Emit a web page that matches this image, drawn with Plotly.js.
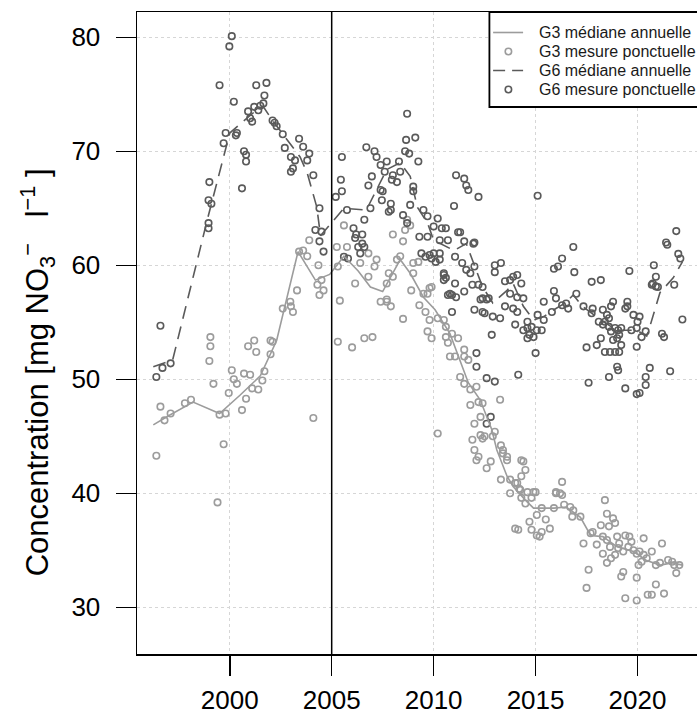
<!DOCTYPE html>
<html>
<head>
<meta charset="utf-8">
<script src="https://cdn.plot.ly/plotly-3.0.1.min.js"></script>
<style>
html,body{margin:0;padding:0;overflow:hidden;background:#fff;}
#chart{width:697px;height:727px;}
</style>
</head>
<body>
<div id="chart"></div>
<script>
// ---- Data ----
const g3MedYear = [1996.25,1997.0,1998.2,1999.5,2000.5,2001.5,2002.3,2003.35,2004.2,2004.9,2005.6,2006.3,2006.9,2007.5,2008.36,2008.85,2009.5,2010.07,2010.8,2011.3,2011.7,2012.28,2012.85,2013.1,2013.6,2013.9,2014.5,2014.9,2015.9,2016.5,2017.2,2017.7,2018.3,2019.0,2019.8,2020.45,2021.1,2021.7,2022.2];
const g3MedVal  = [46.0,46.8,48.0,47.0,48.6,50.3,53.4,61.2,58.7,59.2,60.8,59.5,58.1,57.7,60.5,59.3,57.2,56.1,54.0,51.7,49.7,48.2,45.6,43.8,41.5,40.6,39.4,38.7,38.7,38.8,37.9,36.3,36.2,35.3,34.9,34.1,33.7,33.9,33.7];

const g6MedYear = [1996.25,1997.2,1998.9,2000.0,2001.3,2001.65,2002.1,2002.8,2003.45,2003.8,2004.27,2004.45,2005.6,2006.7,2007.2,2007.7,2008.36,2008.85,2009.2,2009.7,2010.0,2011.0,2011.6,2011.95,2012.4,2012.9,2013.6,2013.9,2014.4,2014.9,2015.4,2015.9,2016.45,2016.85,2017.3,2018.2,2019.0,2019.96,2020.45,2020.6,2021.1,2021.75,2022.2];
const g6MedVal  = [51.1,51.7,64.0,71.6,73.6,73.9,72.7,71.0,69.5,68.1,65.1,62.6,65.0,64.85,66.6,68.4,69.0,67.8,65.1,63.7,62.2,61.3,61.9,60.2,58.1,56.7,57.8,58.4,56.4,55.2,55.5,56.1,56.7,57.4,56.4,55.2,54.3,54.3,53.8,54.6,57.6,58.9,60.3];

const g3PtYear = [1996.4,1996.6,1996.8,1997.1,1997.8,1998.1,1999.05,1999.05,1999.0,1999.2,1999.4,1999.7,1999.5,1999.8,1999.95,2000.1,2000.2,2000.35,2000.6,2000.7,2000.8,2000.9,2001.0,2001.1,2001.2,2001.3,2001.4,2001.6,2001.7,2002.0,2002.0,2002.1,2002.6,2002.97,2003.0,2003.1,2003.3,2003.4,2003.6,2003.9,2003.8,2004.1,2004.3,2004.35,2004.4,2004.5,2004.6,
2005.25,2005.3,2005.3,2005.4,2005.6,2005.75,2006.0,2006.15,2006.4,2006.6,2006.8,2006.8,2007.0,2007.1,2007.2,2007.4,2007.7,2007.7,2007.7,2007.8,2007.9,2008.0,2008.0,2008.2,2008.36,2008.5,2008.5,2008.6,2008.7,2008.85,2008.9,2009.0,2009.0,2009.25,2009.3,2009.5,2009.6,2009.7,2009.7,2009.8,2009.8,2009.9,2009.9,
2010.2,2010.2,2010.5,2010.6,2010.6,2010.7,2010.8,2010.9,2011.05,2011.2,2011.3,2011.5,2011.5,2011.5,2011.7,2011.8,2011.8,2011.9,2012.0,2012.0,2012.1,2012.1,2012.2,2012.2,2012.3,2012.3,2012.4,2012.4,2012.5,2012.6,2012.8,2012.9,2013.0,2013.26,2013.3,2013.3,2013.4,2013.4,2013.6,2013.6,2013.75,2013.75,
2014.0,2014.0,2014.1,2014.15,2014.2,2014.25,2014.3,2014.3,2014.3,2014.4,2014.5,2014.5,2014.6,2014.7,2014.8,2014.8,2014.9,2015.0,2015.06,2015.06,2015.2,2015.3,2015.3,2015.5,2015.7,2015.9,2016.0,2016.0,2016.2,2016.3,2016.3,2016.4,2016.7,2016.8,2016.85,
2017.2,2017.35,2017.5,2017.6,2017.7,2017.8,2018.0,2018.2,2018.3,2018.3,2018.4,2018.5,2018.5,2018.5,2018.6,2018.65,2018.7,2018.8,2018.9,2018.9,2019.0,2019.05,2019.1,2019.2,2019.3,2019.3,2019.4,2019.4,2019.55,2019.6,2019.7,2019.8,2019.96,2019.96,2019.96,
2020.05,2020.1,2020.2,2020.3,2020.3,2020.45,2020.5,2020.7,2020.7,2020.9,2020.9,2021.1,2021.2,2021.3,2021.5,2021.7,2021.8,2021.9,2022.05];
const g3PtVal = [43.3,47.6,46.4,47.0,47.9,48.2,53.7,52.9,51.6,49.6,39.2,44.3,46.9,47.0,48.8,50.8,50.0,49.6,47.3,50.5,48.3,52.9,50.4,49.2,53.4,52.4,49.1,49.9,50.7,53.4,52.2,53.3,56.2,56.8,56.4,55.9,57.8,61.2,61.3,62.2,60.8,46.6,58.3,60.0,57.4,58.7,57.8,
61.6,59.9,53.3,56.9,63.5,61.6,52.8,58.4,60.2,53.6,59.0,61.05,53.7,59.9,60.5,56.8,56.8,57.0,58.4,59.3,56.4,62.7,59.0,60.5,60.8,62.1,55.3,63.1,64.0,63.5,57.8,59.3,60.2,60.3,56.5,57.5,55.9,57.5,54.2,58.0,55.2,58.1,53.6,
55.35,45.25,55.2,54.6,53.7,53.2,52.0,54.0,52.0,53.6,50.2,52.6,52.0,49.6,51.7,49.1,47.75,44.7,46.1,43.8,49.35,42.9,48.0,43.2,46.7,45.1,47.9,44.8,45.0,42.2,42.8,45.0,45.4,48.2,44.2,41.2,43.8,43.5,43.2,42.9,41.2,40.0,
40.9,36.9,40.9,36.8,40.4,40.3,41.5,42.9,39.6,42.8,42.05,39.1,40.1,37.5,39.6,36.8,40.1,40.1,38.1,36.3,36.2,38.7,36.6,37.7,36.9,38.7,40.0,40.1,40.0,41.0,39.85,39.0,38.8,37.95,38.5,
37.95,35.6,31.7,33.3,36.5,36.6,35.5,37.2,36.2,34.7,39.4,38.2,35.9,33.9,37.1,35.3,34.3,37.8,37.4,34.6,36.2,35.2,35.6,32.7,34.9,33.1,36.3,30.8,35.3,36.2,35.75,35.0,34.7,32.6,30.6,
33.7,34.9,34.0,34.6,36.05,34.3,31.1,34.9,31.1,33.7,32.0,33.9,35.6,31.2,34.15,34.0,33.7,33.0,33.7];

const g6PtYear = [1996.4,1996.6,1996.7,1997.1,1998.96,1998.96,1998.96,1999.0,1999.1,1999.5,1999.7,1999.8,1999.98,2000.1,2000.2,2000.3,2000.35,2000.6,2000.7,2000.8,2000.8,2000.9,2001.0,2001.1,2001.2,2001.3,2001.4,2001.5,2001.65,2001.7,2001.8,2002.1,2002.2,2002.3,2002.6,2002.7,2003.0,2003.0,2003.1,2003.2,2003.4,2003.6,2003.8,2003.9,2004.1,2004.2,2004.4,2004.4,2004.5,2004.6,
2005.2,2005.45,2005.5,2005.5,2005.6,2005.75,2005.8,2006.07,2006.15,2006.2,2006.3,2006.4,2006.5,2006.5,2006.6,2006.6,2006.7,2006.8,2006.9,2006.97,2007.1,2007.2,2007.4,2007.4,2007.46,2007.5,2007.6,2007.7,2007.8,2007.9,2007.9,2007.95,2008.0,2008.2,2008.3,2008.36,2008.5,2008.6,2008.65,2008.7,2008.7,2008.8,2008.85,2009.0,2009.0,2009.1,2009.25,2009.3,2009.4,2009.5,2009.6,2009.7,2009.7,2009.8,2009.9,
2010.0,2010.0,2010.1,2010.2,2010.3,2010.3,2010.3,2010.4,2010.5,2010.5,2010.5,2010.6,2010.6,2010.7,2010.7,2010.8,2010.9,2010.9,2011.0,2011.05,2011.05,2011.1,2011.1,2011.2,2011.3,2011.4,2011.5,2011.5,2011.5,2011.6,2011.6,2011.7,2011.8,2011.9,2011.95,2012.0,2012.0,2012.0,2012.1,2012.1,2012.2,2012.2,2012.3,2012.4,2012.4,2012.4,2012.5,2012.6,2012.6,2012.6,2012.7,2012.8,2012.85,2012.9,
2013.0,2013.0,2013.0,2013.26,2013.3,2013.5,2013.5,2013.75,2013.75,2013.9,2013.9,2014.0,2014.1,2014.1,2014.1,2014.15,2014.3,2014.4,2014.4,2014.6,2014.6,2014.6,2014.7,2014.8,2014.9,2015.0,2015.06,2015.1,2015.1,2015.3,2015.4,2015.4,2015.8,2015.9,2015.9,2016.0,2016.1,2016.3,2016.3,2016.5,2016.6,2016.85,2016.9,
2017.0,2017.35,2017.5,2017.6,2017.75,2017.75,2017.8,2018.0,2018.1,2018.2,2018.2,2018.3,2018.3,2018.4,2018.4,2018.5,2018.6,2018.6,2018.6,2018.65,2018.7,2018.7,2018.8,2018.8,2018.9,2018.9,2019.0,2019.0,2019.05,2019.05,2019.1,2019.1,2019.2,2019.2,2019.4,2019.4,2019.5,2019.5,2019.6,2019.7,2019.8,2019.96,2019.96,2019.96,
2020.0,2020.1,2020.1,2020.2,2020.4,2020.4,2020.4,2020.6,2020.7,2020.75,2020.8,2020.9,2020.9,2021.0,2021.2,2021.3,2021.4,2021.46,2021.6,2021.8,2021.9,2022.0,2022.1,2022.2];
const g6PtVal = [50.2,54.7,51.0,51.4,63.7,63.25,65.7,67.3,65.4,75.8,70.7,71.6,79.2,80.1,74.35,71.4,71.6,66.75,70.0,69.7,69.1,73.5,72.9,72.6,73.9,75.8,73.6,74.0,74.2,74.9,76.0,72.7,72.5,72.2,71.5,70.3,69.5,68.2,68.5,69.2,71.1,70.4,69.2,69.8,67.9,63.1,65.0,62.1,62.95,61.2,
66.0,67.5,69.5,66.5,60.75,64.85,60.6,63.25,62.4,62.7,61.6,61.05,62.7,61.9,64.0,61.6,70.35,67.0,65.0,67.8,70.0,69.5,68.8,66.6,65.7,66.5,68.2,69.1,64.7,65.4,64.85,67.5,67.9,67.3,69.1,68.2,64.4,70.0,71.0,73.3,63.7,69.8,65.3,66.9,66.5,71.2,69.1,62.5,61.05,64.85,60.75,64.3,62.5,60.9,60.6,
63.4,61.05,60.3,64.1,62.2,61.05,60.5,63.25,59.3,58.7,59.15,63.25,58.9,62.2,57.4,57.5,57.4,55.9,65.2,60.75,58.4,67.9,57.2,62.9,62.9,60.2,67.6,62.1,57.7,67.0,59.6,66.6,59.3,58.3,61.9,62.0,59.9,56.1,52.3,51.1,66.0,58.3,57.0,58.1,57.1,55.9,55.8,57.0,50.1,46.1,57.1,46.7,53.9,55.5,
60.0,59.4,49.8,55.35,60.2,58.6,56.4,58.7,57.5,59.0,56.2,54.8,59.15,57.2,55.9,50.4,58.4,57.1,54.3,55.05,54.5,53.6,53.9,54.6,53.7,52.3,54.3,66.1,55.65,54.3,55.2,56.8,55.9,59.7,57.75,57.1,59.9,60.6,56.5,56.65,56.2,61.6,59.4,
57.5,56.4,52.8,49.7,58.55,55.8,56.2,53.0,55.05,58.7,53.6,56.1,54.8,55.05,52.4,55.65,55.35,54.6,50.2,52.4,56.4,54.2,56.8,53.45,54.5,52.4,53.6,51.1,54.3,50.8,53.9,52.4,54.5,53.0,56.2,49.2,56.8,56.4,59.5,54.3,55.65,54.5,52.85,48.7,
55.05,55.5,48.8,53.7,54.2,49.5,50.2,51.0,58.3,58.4,60.0,59.0,58.15,58.1,54.0,53.7,62.0,61.8,50.7,58.3,63.0,61.0,60.6,55.25];

const xTickVals = [2000, 2005, 2010, 2015, 2020];
const yTickVals = [30, 40, 50, 60, 70, 80];
const breakYear = 2005;
const legendNames = ['G3 médiane annuelle','G3 mesure ponctuelle','G6 médiane annuelle','G6 mesure ponctuelle'];
const yTitle = 'Concentration [mg NO<sub>3</sub><sup>−</sup>\u00A0\u00A0 l<sup>−1</sup>\u00A0]';

// ---- Styles / geometry ----
const cG3 = '#9c9c9c';
const cG6 = '#5a5a5a';
const FONT = 'Liberation Sans, Arial, Helvetica, sans-serif';
const W = 697, H = 727, ML = 136.7, MR = 0, MT = 12, MB = 73;
const PW = W - ML - MR, PH = H - MT - MB;
const px = v => (v - ML) / PW;          // page x -> paper x
const py = v => (H - MB - v) / PH;      // page y -> paper y

const traces = [
  {x: g3PtYear, y: g3PtVal, type: 'scatter', mode: 'markers', name: legendNames[1], showlegend: false,
   marker: {symbol: 'circle-open', size: 6.5, color: cG3, line: {width: 1.6, color: cG3}}},
  {x: g6PtYear, y: g6PtVal, type: 'scatter', mode: 'markers', name: legendNames[3], showlegend: false,
   marker: {symbol: 'circle-open', size: 6.5, color: cG6, line: {width: 1.6, color: cG6}}},
  {x: g3MedYear, y: g3MedVal, type: 'scatter', mode: 'lines', name: legendNames[0], showlegend: false,
   line: {color: cG3, width: 1.6}},
  {x: g6MedYear, y: g6MedVal, type: 'scatter', mode: 'lines', name: legendNames[2], showlegend: false,
   line: {color: cG6, width: 1.6, dash: '13px,8px'}}
];

// legend box (drawn as shapes + annotations)
const legLeft = 489.3, legTop = MT, legBottom = 107, rowY = [32.5, 51.5, 70.5, 89.5];
const shapes = [
  {type: 'line', xref: 'x', yref: 'paper', x0: breakYear, x1: breakYear, y0: 0, y1: 1,
   line: {color: '#000', width: 1.5}, layer: 'above'},
  {type: 'rect', xref: 'paper', yref: 'paper', x0: px(legLeft), x1: px(W + 20), y0: py(legBottom), y1: py(legTop),
   fillcolor: '#fff', line: {color: '#000', width: 1.8}, layer: 'above'},
  {type: 'line', xref: 'paper', yref: 'paper', x0: px(493), x1: px(523), y0: py(rowY[0]), y1: py(rowY[0]),
   line: {color: cG3, width: 1.6}, layer: 'above'},
  {type: 'line', xref: 'paper', yref: 'paper', x0: px(493), x1: px(523), y0: py(rowY[2]), y1: py(rowY[2]),
   line: {color: cG6, width: 1.6, dash: '12px,7px'}, layer: 'above'},
  {type: 'circle', xref: 'paper', yref: 'paper', xsizemode: 'pixel', ysizemode: 'pixel',
   xanchor: px(508.3), yanchor: py(rowY[1]), x0: -3.2, x1: 3.2, y0: -3.2, y1: 3.2,
   line: {color: cG3, width: 1.6}, layer: 'above'},
  {type: 'circle', xref: 'paper', yref: 'paper', xsizemode: 'pixel', ysizemode: 'pixel',
   xanchor: px(508.3), yanchor: py(rowY[3]), x0: -3.2, x1: 3.2, y0: -3.2, y1: 3.2,
   line: {color: cG6, width: 1.6}, layer: 'above'}
];

const annotations = legendNames.map((t, i) => ({
  text: t, xref: 'paper', yref: 'paper', x: px(536.5), y: py(rowY[i]),
  xanchor: 'left', yanchor: 'middle', showarrow: false,
  font: {family: FONT, size: 16, color: '#1a1a1a'}
}));
annotations.push({
  text: yTitle, xref: 'paper', yref: 'paper', x: px(37), y: py(372),
  xanchor: 'center', yanchor: 'middle', textangle: -90, showarrow: false,
  font: {family: FONT, size: 31, color: '#000'}
});

const layout = {
  width: W, height: H,
  margin: {l: ML, r: MR, t: MT, b: MB, pad: 0},
  paper_bgcolor: '#fff', plot_bgcolor: '#fff',
  font: {family: FONT, color: '#000'},
  showlegend: false,
  xaxis: {range: [1995.451, 2022.917], tickvals: xTickVals, ticktext: xTickVals.map(String),
    showline: true, mirror: true, linecolor: '#000', linewidth: 1.5,
    ticks: 'outside', ticklen: 20, tickwidth: 1.5, tickcolor: '#000',
    tickfont: {family: FONT, size: 26, color: '#000'}, ticklabelstandoff: 2,
    showgrid: true, gridcolor: '#d6d6d6', gridwidth: 1, griddash: '3px,3px', zeroline: false},
  yaxis: {range: [25.904, 82.219], tickvals: yTickVals, ticktext: yTickVals.map(String),
    showline: true, mirror: false, linecolor: '#000', linewidth: 1.5,
    ticks: 'outside', ticklen: 20, tickwidth: 1.5, tickcolor: '#000',
    tickfont: {family: FONT, size: 26, color: '#000'}, ticklabelstandoff: 10,
    showgrid: true, gridcolor: '#d6d6d6', gridwidth: 1, griddash: '3px,3px', zeroline: false},
  shapes: shapes,
  annotations: annotations
};

Plotly.newPlot('chart', traces, layout, {staticPlot: true, displayModeBar: false});
</script>
</body>
</html>
